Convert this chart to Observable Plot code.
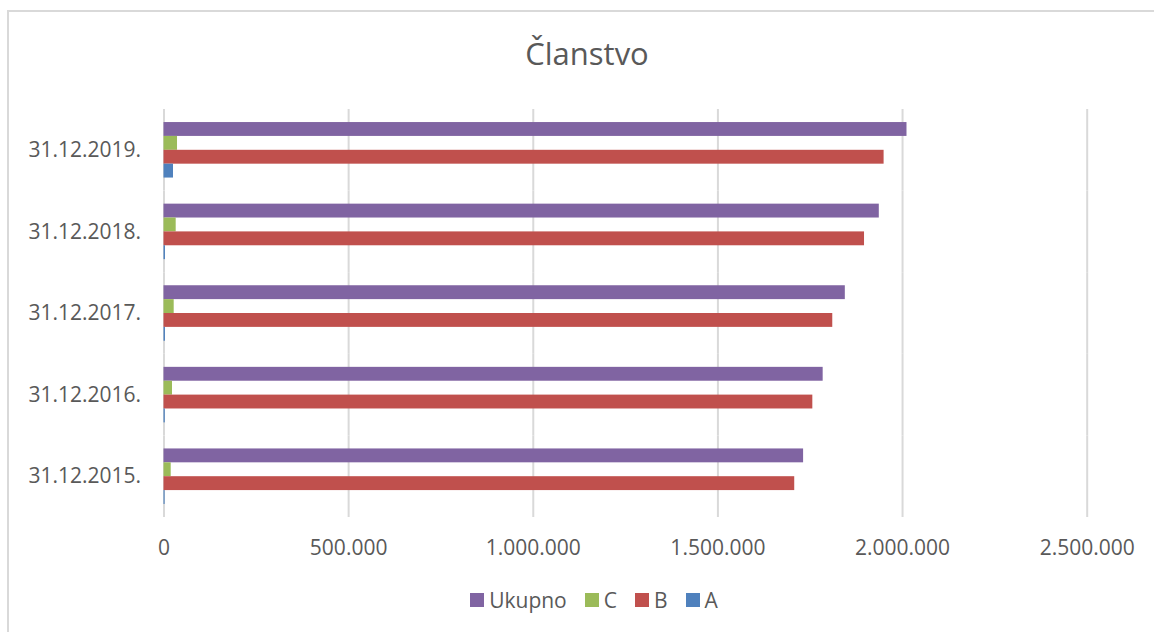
<!DOCTYPE html>
<html>
<head>
<meta charset="utf-8">
<script src="https://cdn.jsdelivr.net/npm/d3@7"></script>
<script src="https://cdn.jsdelivr.net/npm/@observablehq/plot@0.6"></script>
<style>
  body { margin: 0; background: #fff; font-family: "Open Sans", sans-serif; }
  #wrap { position: relative; width: 1154px; height: 632px; overflow: hidden; background: #fff; }
  #frame { position: absolute; left: 7px; top: 10px; width: 1300px; height: 800px;
           border-left: 2px solid #d9d9d9; border-top: 2px solid #d9d9d9; box-sizing: border-box; }
  #title { position: absolute; left: 0; width: 1174px; top: 32px; text-align: center;
           font-size: 31px; color: #595959; line-height: normal; }
  #chart { position: absolute; left: 0; top: 0; }
  #legend { position: absolute; left: 0; top: 586px; width: 1154px; display: flex; justify-content: center;
            align-items: center; font-size: 21px; color: #595959; padding-left: 34px; box-sizing: border-box; }
  .item { display: flex; align-items: center; margin: 0 9px; }
  .sw { width: 14px; height: 14px; margin-right: 5px; }
</style>
</head>
<body>
<div id="wrap">
  <div id="frame"></div>
  <div id="title">Članstvo</div>
  <div id="chart"></div>
  <div id="legend"></div>
</div>
<script>
const dates = ["31.12.2019.", "31.12.2018.", "31.12.2017.", "31.12.2016.", "31.12.2015."];
const seriesNames = ["Ukupno", "C", "B", "A"];
const ukupno = [2012000, 1937000, 1845000, 1785000, 1732000];
const seriesC = [36600, 33000, 27600, 23000, 19500];
const seriesB = [1950000, 1897000, 1811000, 1757000, 1708000];
const seriesA = [25700, 4000, 4000, 3500, 3000];
const xTicks = [0, 500000, 1000000, 1500000, 2000000, 2500000];
const colors = ["#8064A2", "#9BBB59", "#C0504D", "#4F81BD"];

const valuesBySeries = [ukupno, seriesC, seriesB, seriesA];
const rows = [];
dates.forEach((d, i) => {
  seriesNames.forEach((s, j) => {
    rows.push({date: d, series: s, value: valuesBySeries[j][i]});
  });
});

const fmt = v => d3.format(",")(v).replace(/,/g, ".");

const chart = Plot.plot({
  width: 1154,
  height: 575,
  marginLeft: 163.5,
  marginRight: 67.3,
  marginTop: 109,
  marginBottom: 58,
  style: {fontFamily: "Open Sans", fontSize: "21px", color: "#595959", background: "transparent"},
  x: {domain: [0, 2500000], ticks: xTicks, tickFormat: fmt, tickSize: 0, tickPadding: 23, label: null},
  y: {domain: seriesNames, axis: null, paddingInner: 0, paddingOuter: 0.94, round: false},
  fy: {domain: dates, padding: 0, axis: "left", tickSize: 0, tickPadding: 23, label: null, round: false},
  color: {domain: seriesNames, range: colors},
  marks: [
    Plot.gridX({ticks: xTicks, stroke: "#d9d9d9", strokeOpacity: 1, strokeWidth: 2}),
    Plot.barX(rows, {x: "value", y: "series", fy: "date", fill: "series"})
  ]
});
document.getElementById("chart").appendChild(chart);

const legend = document.getElementById("legend");
seriesNames.forEach((s, i) => {
  const it = document.createElement("div");
  it.className = "item";
  const sw = document.createElement("div");
  sw.className = "sw";
  sw.style.background = colors[i];
  const t = document.createElement("span");
  t.textContent = s;
  it.appendChild(sw);
  it.appendChild(t);
  legend.appendChild(it);
});
</script>
</body>
</html>
